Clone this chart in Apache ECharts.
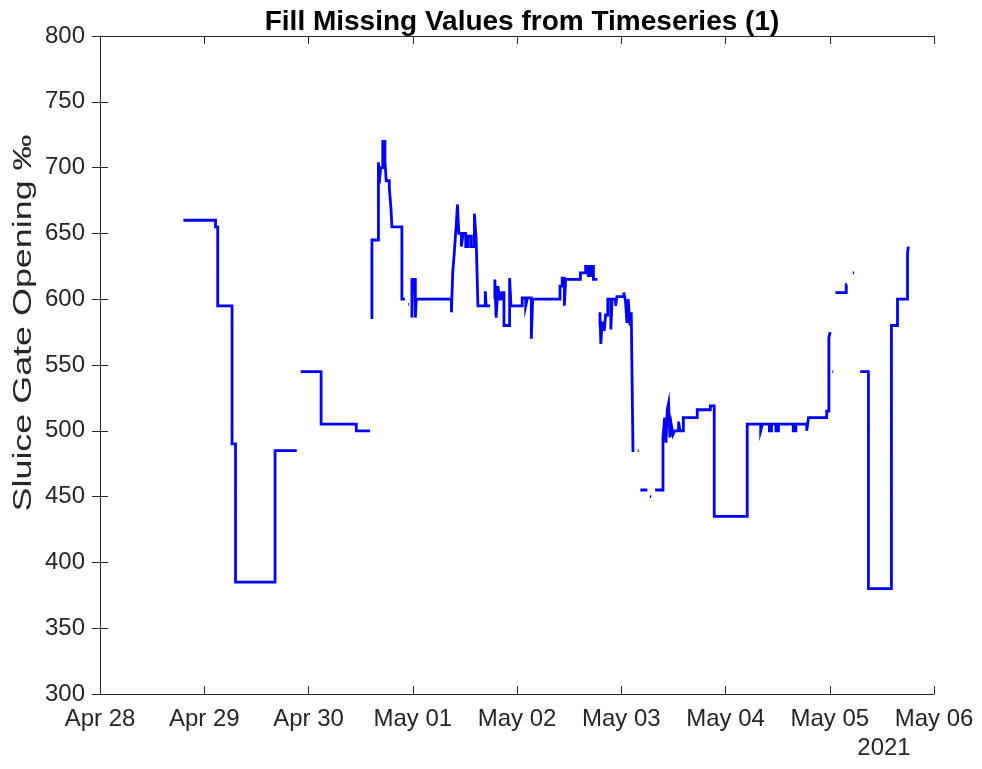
<!DOCTYPE html>
<html>
<head>
<meta charset="utf-8">
<title>Fill Missing Values from Timeseries (1)</title>
<script src="https://cdn.jsdelivr.net/npm/echarts@6/dist/echarts.min.js"></script>
<style>
  html, body { margin: 0; padding: 0; background: #fff; }
  #chart { width: 982px; height: 769px; }
</style>
</head>
<body>
<div id="chart"></div>
<script>
// hours since 2021-04-28 00:00, value in per mille
const monthNames = ['Jan', 'Feb', 'Mar', 'Apr', 'May', 'Jun', 'Jul', 'Aug', 'Sep', 'Oct', 'Nov', 'Dec'];
const yTicks = [300, 350, 400, 450, 500, 550, 600, 650, 700, 750, 800];

const segApr28 = [[19.2,660],[26.6,660],[26.6,655],[27.1,655],[27.1,595],[30.4,595],[30.4,490],[31.2,490],
  [31.2,385],[40.3,385],[40.3,485],[45.3,485]];
const segApr30 = [[46.2,545],[50.9,545],[50.9,505],[59.0,505],[59.0,500],[62.2,500]];
const segMay01Peak = [[62.6,585],[62.6,645],[64.1,645],[64.1,704],[64.3,704],[64.3,688],[64.6,688],[64.6,700],
  [65.1,700],[65.1,720],[65.6,720],[65.6,705],[65.9,705],[65.9,690],[66.6,690],[66.6,685],[67.0,685],
  [67.0,668],[67.2,668],[67.2,655],[69.5,655],[69.5,600],[70.2,600]];
const dotMay01 = [[70.9,596],[71.1,596]];
const segMay01 = [[71.8,616],[71.8,586],[72.0,586],[72.0,615],[72.6,615],[72.6,586],[72.8,586],[72.8,600],
  [80.9,600],[80.9,590],[81.2,590],[81.2,620],[81.6,620],[81.6,637],[82.0,637],[82.0,656],[82.3,656],
  [82.3,672],[82.6,672],[82.6,650],[83.2,650],[83.2,640],[83.6,640],[83.6,650],[84.2,650],[84.2,640],
  [84.8,640],[84.8,648],[85.5,648],[85.5,640],[86.2,640],[86.2,665],[86.6,665],[86.6,645],[87.0,645],
  [87.0,595],[88.7,595],[88.7,606],[88.9,606],[88.9,595],[89.8,595]];
const segMay02 = [[90.9,600],[90.9,615],[91.2,615],[91.2,586],[91.6,586],[91.6,610],[92.0,610],[92.0,600],
  [92.5,600],[92.5,605],[93.0,605],[93.0,580],[94.3,580],[94.3,616],[94.6,616],[94.6,595],[97.2,595],
  [97.2,601],[98.0,601],[98.0,595],[98.4,595],[98.4,601],[99.3,601],[99.3,570],[99.6,570],[99.6,600],
  [105.9,600],[105.9,610],[106.4,610],[106.4,616],[106.9,616],[106.9,595],[107.2,595],[107.2,615],
  [110.6,615],[110.6,620],[111.8,620],[111.8,625],[112.4,625],[112.4,618],[113.0,618],[113.0,625],
  [113.6,625],[113.6,615],[114.5,615]];
const segMay03 = [[115.1,580],[115.1,590],[115.3,590],[115.3,566],[115.6,566],[115.6,582],[116.1,582],
  [116.1,576],[116.4,576],[116.4,588],[116.9,588],[116.9,600],[117.6,600],[117.6,577],[117.9,577],
  [117.9,600],[118.7,600],[118.7,595],[119.0,595],[119.0,602],[120.6,602],[120.6,605],[121.0,605],
  [121.0,598],[121.3,598],[121.3,582],[121.6,582],[121.6,600],[122.0,600],[122.0,580],[122.3,580],
  [122.3,590],[122.7,590],[122.7,485],[123.0,485]];
const dotMay03a = [[123.8,485],[124.0,485]];
const segMay03Low = [[124.4,455],[126.0,455]];
const dotMay03b = [[126.6,450],[126.9,450]];
const segMay04 = [[127.8,455],[129.6,455],[129.6,495],[130.0,495],[130.0,510],[130.3,510],[130.3,491],
  [130.6,491],[130.6,516],[130.9,516],[130.9,521],[131.2,521],[131.2,495],[131.5,495],[131.5,505],
  [131.9,505],[131.9,497],[132.3,497],[132.3,500],[133.2,500],[133.2,507],[133.5,507],[133.5,500],
  [134.3,500],[134.3,510],[137.5,510],[137.5,516],[140.5,516],[140.5,519],[141.4,519],[141.4,435],
  [149.0,435],[149.0,505],[152.1,505],[152.1,500],[152.5,500],[152.5,505],[154.1,505],[154.1,500],
  [154.6,500],[154.6,505],[155.6,505],[155.6,500],[156.2,500],[156.2,505],[159.6,505],[159.6,500],
  [160.2,500],[160.2,505],[162.7,505],[162.7,500],[163.1,500],[163.1,510],[167.3,510],[167.3,515],
  [167.8,515],[167.8,571],[168.1,571],[168.1,575],[168.2,575]];
const dotMay05a = [[168.6,545],[168.8,545]];
const segMay05 = [[169.3,605],[171.8,605],[171.8,611],[172.0,611]];
const dotMay05b = [[173.3,620],[173.6,620]];
const segMay05End = [[175.0,545],[176.9,545],[176.9,380],[182.2,380],[182.2,580],[183.6,580],[183.6,600],
  [185.9,600],[185.9,635],[186.1,635],[186.1,640],[186.2,640]];

const segments = [segApr28, segApr30, segMay01Peak, dotMay01, segMay01, segMay02, segMay03, dotMay03a,
  segMay03Low, dotMay03b, segMay04, dotMay05a, segMay05, dotMay05b, segMay05End];

// join the pieces with breaks so the gaps stay empty
let seriesData = [];
segments.forEach(function (seg, i) {
  if (i > 0) seriesData.push([null, null]);
  seriesData = seriesData.concat(seg);
});

function dayLabel(h) {
  const d = new Date(2021, 3, 28);
  d.setDate(d.getDate() + Math.round(h / 24));
  const day = d.getDate();
  return monthNames[d.getMonth()] + ' ' + (day < 10 ? '0' + day : day);
}

const axisColor = '#262626';
const font = 'Liberation Sans, Arial, Helvetica, sans-serif';

const chart = echarts.init(document.getElementById('chart'), null, { renderer: 'canvas' });

chart.setOption({
  backgroundColor: '#ffffff',
  animation: false,
  title: {
    text: 'Fill Missing Values from Timeseries (1)',
    left: 517,
    top: 3,
    textAlign: 'center',
    textStyle: { fontFamily: font, fontSize: 28, fontWeight: 'bold', color: '#000' }
  },
  grid: { left: 100, top: 36, right: 48, bottom: 75, containLabel: false },
  xAxis: [
    {
      type: 'value', min: 0, max: 192, interval: 24, position: 'bottom',
      axisLine: { lineStyle: { color: axisColor, width: 1 } },
      axisTick: { inside: true, length: 8, lineStyle: { color: axisColor } },
      axisLabel: {
        margin: 13, fontFamily: font, fontSize: 24, color: axisColor,
        formatter: function (v) { return dayLabel(v); }
      },
      splitLine: { show: false }
    },
    {
      type: 'value', min: 0, max: 192, interval: 24, position: 'top',
      axisLine: { lineStyle: { color: axisColor, width: 1 } },
      axisTick: { inside: true, length: 8, lineStyle: { color: axisColor } },
      axisLabel: { show: false },
      splitLine: { show: false }
    }
  ],
  yAxis: [
    {
      type: 'value', min: yTicks[0], max: yTicks[yTicks.length - 1], interval: 50, position: 'left',
      axisLine: { show: true, lineStyle: { color: axisColor, width: 1 } },
      axisTick: { show: true, inside: true, length: 8, lineStyle: { color: axisColor } },
      axisLabel: { margin: 15, fontFamily: font, fontSize: 24, color: axisColor },
      splitLine: { show: false }
    },
    {
      type: 'value', min: yTicks[0], max: yTicks[yTicks.length - 1], interval: 50, position: 'right',
      axisLine: { show: true, lineStyle: { color: axisColor, width: 1 } },
      axisTick: { show: true, inside: true, length: 8, lineStyle: { color: axisColor } },
      axisLabel: { show: false },
      splitLine: { show: false }
    }
  ],
  graphic: [
    {
      // y label, stretched along its length like the original figure
      type: 'text', x: 24, y: 323, rotation: Math.PI / 2, scaleX: 1.38,
      style: {
        text: 'Sluice Gate Opening ‰', fontFamily: font, fontSize: 26, fill: axisColor,
        textAlign: 'center', textVerticalAlign: 'middle'
      }
    },
    {
      type: 'text', x: 884, y: 748,
      style: { text: '2021', fontFamily: font, fontSize: 24, fill: axisColor, textAlign: 'center', textVerticalAlign: 'middle' }
    }
  ],
  series: [
    {
      type: 'line',
      xAxisIndex: 0,
      yAxisIndex: 0,
      data: seriesData,
      showSymbol: false,
      connectNulls: false,
      sampling: null,
      lineStyle: { color: '#0000ff', width: 2.8, join: 'miter' },
      itemStyle: { color: '#0000ff' }
    }
  ]
});
</script>
</body>
</html>
